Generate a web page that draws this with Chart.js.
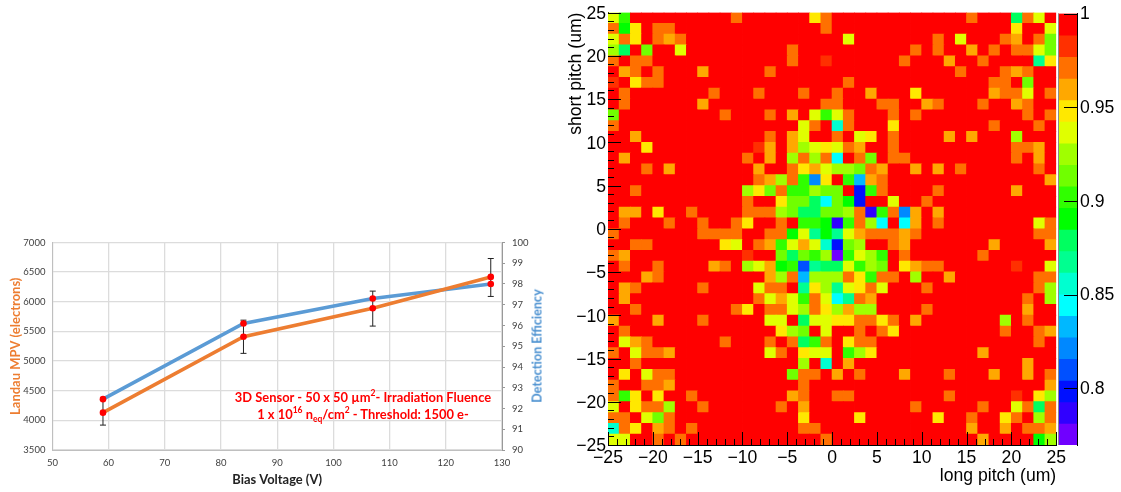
<!DOCTYPE html>
<html><head><meta charset="utf-8">
<script src="https://cdn.jsdelivr.net/npm/chart.js@4"></script>
<style>
html,body{margin:0;padding:0;background:#fff;width:1121px;height:492px;overflow:hidden}
canvas{position:absolute}
#leftPanel{position:absolute;left:0;top:0;width:560px;height:492px;filter:blur(0.35px)}
.note{position:absolute;font:bold 12.9px Lato,sans-serif;color:#ff0000;white-space:nowrap;transform:translate(-50%,-50%);line-height:1}
.note sup,.note sub{font-size:8.5px;line-height:0}
#effTitle{position:absolute;left:537px;top:346px;font:bold 12.6px Lato,sans-serif;color:#4a90d0;white-space:nowrap;transform:translate(-50%,-50%) rotate(-90deg)}
</style></head><body>
<div id="leftPanel">
<canvas id="lineChart" width="560" height="267" style="left:0;top:225px"></canvas>
<div id="effTitle">Detection Efficiency</div>
<div class="note" style="left:363px;top:396.5px">3D Sensor - 50 x 50 µm<sup>2</sup>- Irradiation Fluence</div>
<div class="note" style="left:363px;top:414px">1 x 10<sup>16</sup> n<sub>eq</sub>/cm<sup>2</sup> - Threshold: 1500 e-</div>
</div>
<canvas id="heatChart" width="509" height="492" style="left:560px;top:0"></canvas>
<canvas id="barChart" width="71" height="492" style="left:1050px;top:0"></canvas>
<script>
// ---------- left chart data ----------
const biasVoltage = [59, 84, 107, 128];
const landauMPV   = [4130, 5410, 5890, 6420];
const mpvErrorLow  = [3920, 5130, 5590, 6090];
const mpvErrorHigh = [4340, 5690, 6180, 6730];
const efficiency  = [92.45, 96.1, 97.3, 98.0];

// ---------- heat map data ----------
const pitchMin = -25, pitchMax = 25, cellsPerSide = 40;
const scaleMax = 1, scaleMin = 0.7697;
const colorbarTicks = [0.8, 0.85, 0.9, 0.95, 1];
const levelColors = ['#ff0000','#ff3000','#ff7000','#ffa800','#ffe800','#e0ff00','#a0ff00','#70ff00','#30ff00','#00ff00',
                     '#00ff60','#00ff90','#00ffd0','#00ffff','#00b8ff','#0088ff','#0050ff','#0010ff','#3000ff','#7000ff'];
// one entry per row, top (short pitch +25) to bottom; {column: colour level}, unlisted columns are level 0
const cellLevels = [
{0:5,1:8,11:2,18:4,19:2,32:2,36:10,37:2,38:5},
{0:2,1:9,2:4,4:2,5:2,19:2,36:4,39:5},
{0:5,1:2,2:4,4:2,5:3,6:2,21:5,29:2,31:5,35:2,36:3,38:2,39:7},
{0:6,1:10,3:7,6:5,16:2,27:2,29:2,32:3,34:2,36:2,37:2,38:5,39:7},
{0:2,2:2,3:2,16:2,19:1,26:2,30:3,33:2,38:11,39:4},
{1:3,2:2,4:2,8:3,14:2,31:2,35:2,36:3,37:2},
{0:1,2:4,3:2,4:2,21:2,34:2,35:2,37:7},
{1:2,9:2,13:2,17:2,20:2,23:3,27:4,34:3,35:2,36:2,37:5,39:2},
{1:2,8:3,19:2,20:2,24:2,25:2,28:3,29:2,33:2,36:3,37:2},
{0:7,10:2,14:2,16:3,18:5,19:8,20:5,21:2,25:2,27:2,37:2,39:2},
{0:2,17:5,18:2,20:12,21:2,25:4,34:2,38:2},
{2:3,14:2,16:3,17:5,20:2,22:5,23:4,25:2,30:3,32:3,36:6},
{3:4,13:1,14:3,16:3,17:6,18:5,19:4,20:5,21:2,22:3,25:2,36:2,37:2,38:3},
{1:3,12:2,14:3,16:6,17:2,18:6,19:2,20:13,22:2,23:7,25:2,26:2,36:2,38:3},
{3:2,5:3,13:3,16:2,17:4,18:3,19:5,20:6,21:6,22:7,23:2,24:3,27:3,29:3,31:2,38:2},
{13:2,14:3,15:6,16:2,17:8,18:15,19:4,21:8,22:14,23:3,24:2,39:3},
{2:2,12:6,13:4,14:7,15:2,16:8,17:8,18:6,19:7,20:7,22:17,23:8,24:2,29:2,36:3},
{12:2,15:4,16:7,17:7,18:10,19:13,20:7,21:9,22:17,25:5,28:2},
{1:3,2:3,4:4,7:2,12:2,13:2,14:2,15:6,16:7,17:10,18:10,19:7,20:7,21:6,22:2,23:18,24:8,25:2,26:15,27:3,29:3},
{1:2,5:2,8:2,11:2,12:4,15:2,17:8,18:8,19:9,20:18,21:8,22:2,23:6,24:13,26:13,27:3,29:2,38:5,39:2},
{0:2,8:2,9:2,10:2,11:2,14:2,15:2,16:9,17:5,18:11,19:9,20:11,21:5,22:3,23:2,24:2,25:2,26:3,27:2,38:2,39:2},
{2:2,3:2,10:4,11:5,13:2,14:3,15:8,16:5,17:3,18:5,19:12,20:17,21:7,22:6,25:2,26:3,34:3,39:3},
{0:2,1:3,12:1,15:7,16:10,17:7,18:8,19:6,20:19,21:8,22:5,23:6,24:8,26:2,33:2},
{1:2,4:2,9:3,10:2,12:6,13:5,14:3,15:9,16:8,17:16,18:11,19:10,20:10,21:5,22:8,23:6,24:7,26:4,27:3,28:2,29:2,36:1,39:5},
{3:3,4:2,14:3,15:6,16:2,17:14,18:6,19:6,20:6,21:2,22:4,23:8,24:2,25:2,27:6,30:3,38:2,39:2},
{1:3,2:2,8:2,13:5,14:2,15:2,17:11,18:4,19:6,20:11,21:5,22:4,23:2,24:5,28:2,38:2,39:6},
{1:3,13:2,14:5,15:3,16:5,17:8,18:2,19:5,20:13,21:11,22:2,23:3,37:2,39:6},
{2:2,11:2,12:4,14:2,15:2,16:5,17:6,18:2,19:4,20:6,21:3,22:6,23:6,28:2,37:3},
{0:3,4:3,8:2,14:5,15:5,17:10,18:5,19:5,20:4,21:4,22:2,23:2,24:4,25:2,27:3,35:6,37:2},
{1:2,15:4,16:6,17:7,19:5,22:2,24:2,25:4,35:2,38:2,39:3},
{1:5,2:3,3:2,10:2,14:2,16:2,17:10,18:8,19:2,21:4,22:2,23:2,38:2},
{0:2,2:5,3:2,4:2,5:3,14:5,15:2,17:4,18:5,19:5,21:8,22:6,23:4,33:3},
{2:2,17:6,19:12,21:3,37:3},
{1:4,3:5,4:2,5:2,16:7,17:2,18:2,20:3,22:2,26:3,30:2,34:3,37:3,39:2},
{0:2,3:2,4:2,5:3,17:2,39:3},
{0:2,1:8,2:4,4:4,7:2,16:3,17:2,20:2,21:2,30:2,36:1,38:4,39:6},
{0:5,2:4,3:2,4:2,5:6,8:2,15:2,17:3,27:2,33:2,36:5,37:2,38:10,39:2},
{0:2,1:2,3:5,4:7,5:2,17:4,22:4,29:4,32:2,35:4,36:2,38:6,39:2},
{0:12,1:2,2:4,4:3,5:2,7:2,17:2,18:2,32:3,35:3,37:2,38:2,39:3},
{0:5,1:5,4:2,6:2,19:2,33:3,38:9,39:6}
];

const quiet = {legend:{display:false}, tooltip:{enabled:false}};
const setWidth = w => s => { s.width = w; };
const setHeight = h => s => { s.height = h; };
const plainNumber = v => String(v);

// ---------- left: line chart ----------
const errorSets = biasVoltage.map((x,i) => ({
  type:'line', xAxisID:'x', yAxisID:'y', order:5, showLine:true, borderColor:'#222', borderWidth:1,
  pointStyle:'line', pointRadius:3, pointBorderColor:'#222', pointBorderWidth:1,
  data:[{x, y:mpvErrorLow[i]}, {x, y:mpvErrorHigh[i]}]
}));
const lineSet = (values, axis, color) => ({
  type:'line', yAxisID:axis, order:1, borderColor:color, borderWidth:3.6, tension:0,
  pointRadius:3.3, pointBackgroundColor:'#ff0000', pointBorderColor:'#ff0000', pointBorderWidth:0,
  data: biasVoltage.map((x,i) => ({x, y:values[i]}))
});
new Chart(document.getElementById('lineChart'), {
  type:'line',
  data:{datasets:[lineSet(landauMPV,'y','#ed7d31'), lineSet(efficiency,'y1','#5b9bd5'), ...errorSets]},
  options:{
    responsive:false, animation:false, devicePixelRatio:1, events:[],
    layout:{padding:{top:17.5,bottom:0,left:0,right:0}},
    plugins:quiet,
    scales:{
      x:{type:'linear',min:50,max:130,afterFit:setHeight(42),
        ticks:{stepSize:10,color:'#404040',font:{family:'Lato',size:9.5},padding:7,maxRotation:0,callback:plainNumber},
        grid:{color:'#dcdcdc',lineWidth:1.3,drawTicks:false},border:{color:'#bfbfbf',width:1},
        title:{display:true,text:'Bias Voltage (V)',color:'#222',font:{family:'Lato',size:12.9,weight:'bold'},padding:{top:0,bottom:4}}},
      y:{min:3500,max:7000,position:'left',afterFit:setWidth(52.4),
        ticks:{stepSize:500,color:'#404040',font:{family:'Lato',size:9.5},padding:7,callback:plainNumber},
        grid:{color:'#dcdcdc',lineWidth:1.3,drawTicks:false},border:{color:'#bfbfbf',width:1},
        title:{display:true,text:'Landau MPV (electrons)',color:'#ed7d31',font:{family:'Lato',size:13,weight:'bold'},padding:{top:8,bottom:0}}},
      y1:{min:90,max:100,position:'right',afterFit:setWidth(58),
        ticks:{stepSize:1,color:'#404040',font:{family:'Lato',size:9.5},padding:7,callback:plainNumber},
        grid:{display:true,drawOnChartArea:false,color:'#999',tickLength:3},border:{color:'#999',width:1}}
    }
  }
});

// ---------- right: heat map ----------
const cellSize = (pitchMax - pitchMin) / cellsPerSide;
const cells = [], cellColors = [];
cellLevels.forEach((row, j) => {
  for (let i = 0; i < cellsPerSide; i++) {
    const top = pitchMax - j * cellSize;
    cells.push({x: pitchMin + (i + 0.5) * cellSize, y: [top - cellSize, top]});
    cellColors.push(levelColors[row[i] || 0]);
  }
});
const inwardTicks = {
  id:'inwardTicks',
  afterDatasetsDraw(chart){
    const {ctx, chartArea:a, scales:{x, y}} = chart;
    ctx.save(); ctx.strokeStyle='#000'; ctx.lineWidth=1; ctx.beginPath();
    for (let v = pitchMin; v <= pitchMax; v++) {
      const len = v % 5 === 0 ? 13 : 6;
      const px = Math.round(x.getPixelForValue(v)) + 0.5, py = Math.round(y.getPixelForValue(v)) + 0.5;
      ctx.moveTo(px, a.bottom); ctx.lineTo(px, a.bottom - len);
      ctx.moveTo(a.left, py); ctx.lineTo(a.left + len, py);
    }
    ctx.stroke(); ctx.restore();
  }
};
const minusLabel = v => String(v).replace('-', '\u2212');
const axisFont = {family:'Liberation Sans', size:17.6};
new Chart(document.getElementById('heatChart'), {
  type:'bar',
  data:{datasets:[{data:cells, backgroundColor:cellColors, borderWidth:0, inflateAmount:0.4,
    barPercentage:1, categoryPercentage:1, grouped:false}]},
  options:{
    responsive:false, animation:false, devicePixelRatio:1, events:[],
    layout:{padding:{top:12,right:11,bottom:0,left:0}},
    plugins:quiet,
    scales:{
      x:{type:'linear',min:pitchMin,max:pitchMax,offset:false,afterFit:setHeight(47),
        ticks:{stepSize:5,color:'#000',font:axisFont,callback:minusLabel,maxRotation:0,autoSkip:false,padding:3},
        grid:{display:false,drawTicks:false},border:{color:'#000',width:1},
        title:{display:true,text:'long pitch (um)',align:'end',color:'#000',font:axisFont,padding:{top:0,bottom:5}}},
      y:{type:'linear',min:pitchMin,max:pitchMax,afterFit:setWidth(48),
        ticks:{stepSize:5,color:'#000',font:axisFont,callback:minusLabel,autoSkip:false,padding:2,labelOffset:1.5},
        grid:{display:false,drawTicks:false},border:{color:'#000',width:1},
        title:{display:true,text:'short pitch (um)',align:'end',color:'#000',font:axisFont,padding:{top:6,bottom:0}}}
    }
  },
  plugins:[inwardTicks]
});

// ---------- right: colour bar ----------
const levelStep = (scaleMax - scaleMin) / levelColors.length;
const barBands = levelColors.map((color, k) => ({
  data:[[scaleMax - (k + 1) * levelStep, scaleMax - k * levelStep]],
  backgroundColor:color, borderWidth:0, inflateAmount:0.4, barPercentage:1, categoryPercentage:1, grouped:false
}));
const barTicks = {
  id:'barTicks',
  afterDatasetsDraw(chart){
    const {ctx, chartArea:a, scales:{y}} = chart;
    ctx.save();
    ctx.strokeStyle='#8a8a8a'; ctx.lineWidth=1; ctx.beginPath();
    ctx.moveTo(a.left+0.5, a.top); ctx.lineTo(a.left+0.5, a.bottom); ctx.stroke();
    ctx.strokeStyle='#000'; ctx.beginPath();
    colorbarTicks.forEach(v => {
      const py = Math.round(y.getPixelForValue(v)) + 0.5;
      ctx.moveTo(a.right, py); ctx.lineTo(a.right - 13, py);
    });
    ctx.stroke(); ctx.restore();
  }
};
new Chart(document.getElementById('barChart'), {
  type:'bar',
  data:{labels:[''], datasets:barBands},
  options:{
    responsive:false, animation:false, devicePixelRatio:1, events:[],
    layout:{padding:{top:12,left:8,right:0,bottom:47}},
    plugins:quiet,
    scales:{
      x:{display:false},
      y:{position:'right',min:scaleMin,max:scaleMax,afterFit:setWidth(44),
        afterBuildTicks:s => { s.ticks = colorbarTicks.map(value => ({value})); },
        ticks:{color:'#000',font:axisFont,padding:3,autoSkip:false,labelOffset:1,callback:v => String(+v.toFixed(2))},
        grid:{display:false,drawTicks:false},border:{color:'#000',width:1}}
    }
  },
  plugins:[barTicks]
});
</script>
</body></html>
